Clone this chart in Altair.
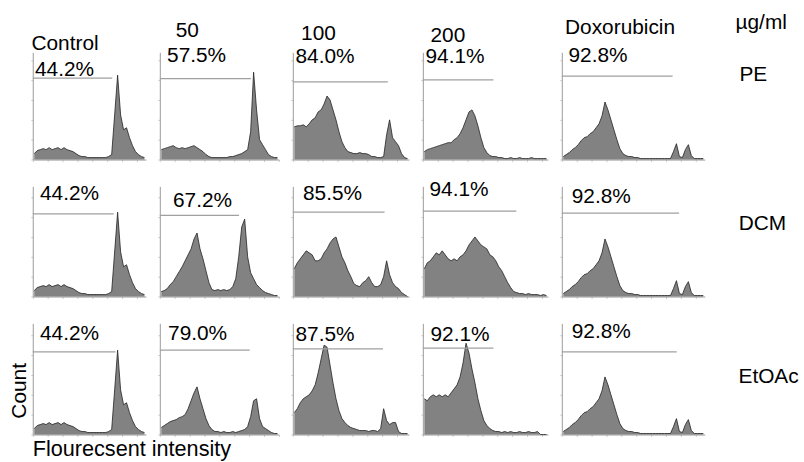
import altair as alt
import pandas as pd

FONT = "Liberation Sans"

# ---------------- data ----------------
column_titles = ["Control", "50", "100", "200", "Doxorubicin"]
row_titles = ["PE", "DCM", "EtOAc"]
unit_label = "µg/ml"
y_title = "Count"
x_title = "Flourecsent intensity"

# histogram counts per fluorescence channel bin
control = [6, 9, 10, 11, 10, 12, 10, 11, 12, 10,
           12, 10, 9, 8, 6, 4, 3, 3, 2, 2,
           2, 2, 2, 2, 2, 3, 5, 45, 85, 45,
           30, 32, 22, 14, 8, 5, 3, 2]
doxorubicin = [3, 5, 7, 10, 12, 15, 19, 22, 23, 26,
               28, 32, 36, 44, 58, 50, 40, 30, 20, 11,
               6, 4, 3, 3, 2, 2, 1, 1, 1, 1,
               1, 1, 1, 1, 1, 1, 1, 8, 16, 3,
               2, 10, 15, 4, 1, 1, 1, 1]
pe_50 = [10, 11, 12, 13, 14, 12, 11, 12, 11, 12,
         13, 14, 12, 10, 8, 5, 3, 2, 2, 2,
         2, 2, 2, 3, 3, 4, 5, 6, 8, 10,
         28, 88, 50, 20, 15, 10, 5, 3, 2, 2]
pe_100 = [33, 34, 34, 35, 33, 36, 40, 42, 48, 50,
          56, 64, 60, 50, 40, 28, 18, 12, 8, 7,
          6, 6, 7, 6, 6, 5, 3, 3, 2, 2,
          3, 25, 40, 22, 18, 14, 6, 2, 1]
pe_200 = [8, 10, 11, 12, 13, 14, 15, 16, 17, 17,
          20, 22, 26, 32, 40, 48, 50, 44, 34, 22,
          12, 7, 4, 3, 3, 2, 2, 1, 1, 2,
          1, 1, 2, 1, 1, 1, 2, 1, 1, 1,
          1, 1]
dcm_50 = [5, 6, 8, 12, 15, 20, 25, 30, 36, 42,
          48, 58, 64, 48, 38, 26, 14, 7, 6, 7,
          6, 7, 6, 7, 10, 18, 40, 70, 78, 40,
          24, 18, 12, 9, 6, 4, 3, 2, 1, 1]
dcm_100 = [28, 34, 38, 42, 46, 44, 42, 36, 36, 38,
           44, 48, 54, 58, 60, 50, 40, 34, 26, 20,
           13, 11, 10, 14, 16, 20, 14, 10, 10, 12,
           20, 36, 22, 14, 10, 8, 4, 2, 0]
dcm_200 = [28, 34, 36, 40, 44, 42, 46, 42, 38, 36,
           38, 36, 40, 42, 46, 52, 56, 60, 56, 52,
           50, 48, 42, 40, 36, 30, 26, 20, 14, 9,
           5, 4, 3, 3, 2, 3, 2, 2, 2, 1,
           2, 1]
etoac_50 = [7, 9, 11, 13, 14, 15, 17, 18, 20, 26,
            34, 42, 48, 36, 26, 16, 9, 5, 3, 3,
            2, 3, 2, 2, 3, 2, 3, 4, 5, 8,
            18, 34, 36, 16, 8, 6, 4, 2, 1, 1]
etoac_100 = [22, 26, 32, 36, 38, 40, 44, 50, 62, 76,
             90, 88, 70, 52, 36, 24, 16, 12, 9, 7,
             6, 5, 4, 4, 4, 3, 4, 4, 3, 6,
             26, 14, 10, 12, 12, 3, 1, 1, 1]
etoac_200 = [36, 34, 38, 40, 38, 40, 38, 40, 38, 42,
             46, 50, 58, 72, 92, 82, 66, 52, 36, 24,
             14, 9, 6, 4, 3, 3, 2, 3, 2, 3,
             2, 2, 3, 2, 2, 3, 2, 2, 3, 0,
             0, 0]

percent_labels = [["44.2%", "57.5%", "84.0%", "94.1%", "92.8%"],
                  ["44.2%", "67.2%", "85.5%", "94.1%", "92.8%"],
                  ["44.2%", "79.0%", "87.5%", "92.1%", "92.8%"]]
# gate marker: upper channel bound and marker level (counts)
gate_end = [[26.7, 30.6, 31.9, 23.7, 37.2],
            [27.2, 26.6, 30.8, 31.4, 39.4],
            [27.8, 30.2, 30.3, 23.7, 38.6]]
gate_level = [[82, 81.6, 78.3, 80.3, 84],
              [83.3, 81.7, 85, 86, 84],
              [83.3, 85, 86.3, 87, 83.3]]

hist_grid = [[control, pe_50, pe_100, pe_200, doxorubicin],
             [control, dcm_50, dcm_100, dcm_200, doxorubicin],
             [control, etoac_50, etoac_100, etoac_200, doxorubicin]]

# ---------------- layout (pixels) ----------------
col_widths = [114, 120, 117, 126, 144]
col_bins = [38, 40, 39, 42, 48]
row_heights = [108, 111, 112]
row_count_max = [108, 111, 112]
pct_offsets = [[(2.3, 23.5), (7.3, 10.2), (2.7, 11.2), (2.7, 10.7), (6.7, 9.5)],
               [(7.3, 13.8), (13.3, 20.8), (10.3, 13.8), (6.7, 9.8), (10, 16.5)],
               [(7.3, 16.5), (8.3, 16.5), (2.7, 18.2), (7.7, 18.2), (10, 14.8)]]
header_offsets = [(-1.3, -2.2), (16, -15.5), (8.3, -12.2), (7.7, -10.5), (3.3, -18.8)]
row_label_offsets = [(179, 28.5), (178.3, 43.8), (178, 59.8)]
FS = 21


def text_layer(label, dx, dy, angle=None, align="left", size=FS):
    kw = dict(align=align, baseline="alphabetic", fontSize=size, font=FONT, color="black")
    if angle is not None:
        kw["angle"] = angle
    return alt.Chart(pd.DataFrame({"t": [label]})).mark_text(**kw).encode(
        x=alt.value(dx), y=alt.value(dy), text="t:N")


def panel(r, c):
    vals = hist_grid[r][c]
    df = pd.DataFrame({"channel": [i + 0.5 for i in range(len(vals))], "count": vals})
    xs = alt.Scale(domain=[0, col_bins[c]], nice=False, zero=False)
    ys = alt.Scale(domain=[0, row_count_max[r]], nice=False)
    xaxis = alt.Axis(title=None, labels=False, grid=False, ticks=True, tickSize=2,
                     tickColor="#cccccc", domainColor="#9a9a9a", tickCount=8)
    yaxis = alt.Axis(title=None, labels=False, grid=False, ticks=True, tickSize=2,
                     tickColor="#cccccc", domainColor="#9a9a9a", tickCount=4)
    area = alt.Chart(df).mark_area(
        color="#4d4d4d",
        line=alt.OverlayMarkDef(color="#222222", strokeWidth=0.8),
    ).encode(
        x=alt.X("channel:Q", scale=xs, axis=xaxis),
        y=alt.Y("count:Q", scale=ys, axis=yaxis),
    )
    gdf = pd.DataFrame({"start": [0.0], "end": [gate_end[r][c]], "level": [gate_level[r][c]]})
    gate = alt.Chart(gdf).mark_rule(color="#a0a0a0", strokeWidth=1.2).encode(
        x=alt.X("start:Q", scale=xs, axis=xaxis),
        x2="end:Q",
        y=alt.Y("level:Q", scale=ys, axis=yaxis),
    )
    layers = [area, gate]
    dx, dy = pct_offsets[r][c]
    layers.append(text_layer(percent_labels[r][c], dx, dy))
    if r == 0:
        hx, hy = header_offsets[c]
        layers.append(text_layer(column_titles[c], hx, hy))
    if c == 4:
        lx, ly = row_label_offsets[r]
        layers.append(text_layer(row_titles[r], lx, ly))
        if r == 0:
            layers.append(text_layer(unit_label, 175, -23.8))
    if r == 2 and c == 0:
        layers.append(text_layer(y_title, -7, 68, angle=270, align="center"))
        layers.append(text_layer(x_title, 0, 134, size=21.8))
    return alt.layer(*layers).properties(width=col_widths[c], height=row_heights[r])


panels = [panel(r, c) for r in range(3) for c in range(5)]
chart = alt.concat(
    *panels, columns=5, spacing={"row": 27, "column": 14}, bounds="flush", align="each"
).properties(
    padding={"left": 8, "top": 10, "right": 5, "bottom": 5},
    background="white",
).configure_view(stroke=None)

chart.save("out.html", embed_options={"renderer": "svg", "actions": False})
